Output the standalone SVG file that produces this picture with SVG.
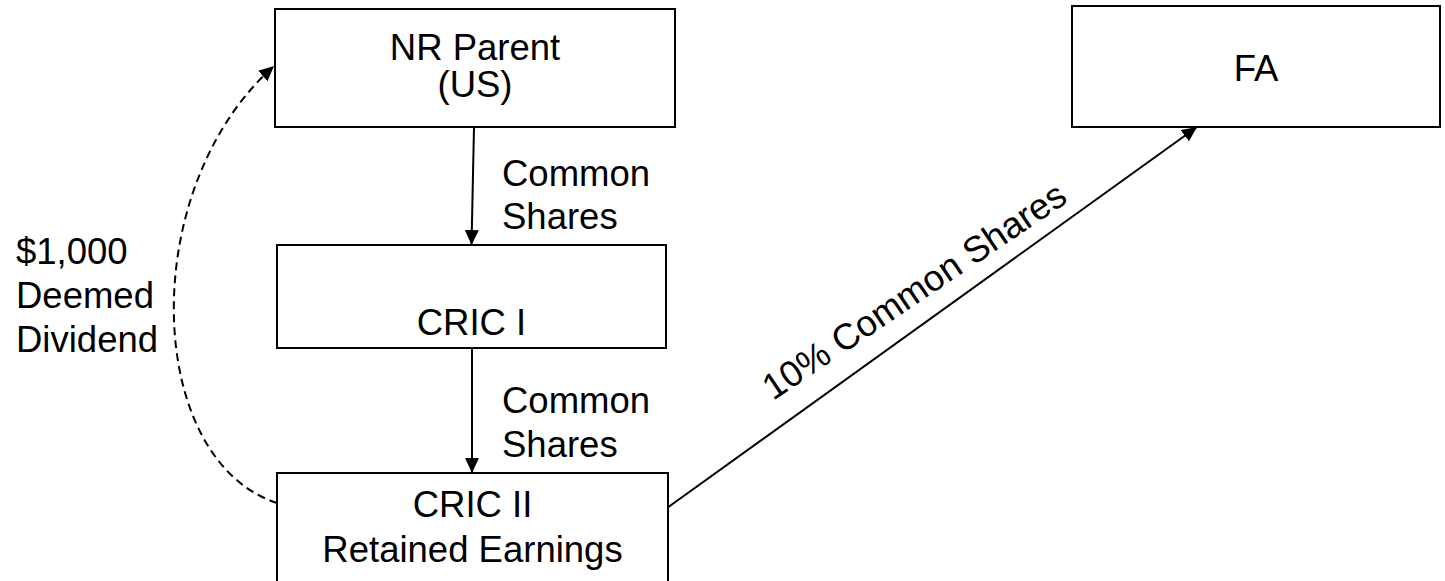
<svg xmlns="http://www.w3.org/2000/svg" width="1445" height="581" viewBox="0 0 1445 581">
  <style>
    .box { fill: #ffffff; stroke: #000000; stroke-width: 2; }
    .lbl { font-family: "Liberation Sans", Arial, sans-serif; font-size: 36.5px; fill: #000000; }
    .mid { text-anchor: middle; }
    .conn { fill: none; stroke: #000000; stroke-width: 2; }
    .dash { stroke-dasharray: 8 5; }
  </style>
  <defs>
    <marker id="arrow" markerUnits="userSpaceOnUse" markerWidth="16" markerHeight="14" refX="15" refY="7" orient="auto">
      <path d="M0,0 L15,7 L0,14 z" fill="#000000"/>
    </marker>
  </defs>
  <rect x="0" y="0" width="1445" height="581" fill="#ffffff"/>

  <g id="connectors">
    <line class="conn" x1="474" y1="127" x2="471.5" y2="245" marker-end="url(#arrow)"/>
    <line class="conn" x1="472" y1="348" x2="472" y2="473" marker-end="url(#arrow)"/>
    <line class="conn" x1="667" y1="508" x2="1197" y2="127" marker-end="url(#arrow)"/>
    <path class="conn dash" d="M277,503 C145,460 135,190 274,66" marker-end="url(#arrow)"/>
    <text class="lbl" x="502" y="186">Common</text>
    <text class="lbl" x="502" y="229">Shares</text>
    <text class="lbl" x="502" y="413">Common</text>
    <text class="lbl" x="502" y="457">Shares</text>
    <text class="lbl" x="16" y="264">$1,000</text>
    <text class="lbl" x="16" y="308">Deemed</text>
    <text class="lbl" x="16" y="352">Dividend</text>
    <text class="lbl" x="773" y="401" transform="rotate(-34 773 401)">10% Common Shares</text>
  </g>

  <g id="nr-parent">
    <rect class="box" x="275" y="9" width="400" height="118"/>
    <text class="lbl mid" x="475" y="60">NR Parent</text>
    <text class="lbl mid" x="475" y="97">(US)</text>
  </g>

  <g id="cric-i">
    <rect class="box" x="277" y="245" width="389" height="103"/>
    <text class="lbl mid" x="471.5" y="335">CRIC I</text>
  </g>

  <g id="cric-ii">
    <rect class="box" x="277" y="473" width="391" height="120"/>
    <text class="lbl mid" x="472.5" y="517">CRIC II</text>
    <text class="lbl mid" x="472.5" y="562">Retained Earnings</text>
  </g>

  <g id="fa">
    <rect class="box" x="1072" y="6" width="368" height="121"/>
    <text class="lbl mid" x="1256" y="81">FA</text>
  </g>
</svg>
